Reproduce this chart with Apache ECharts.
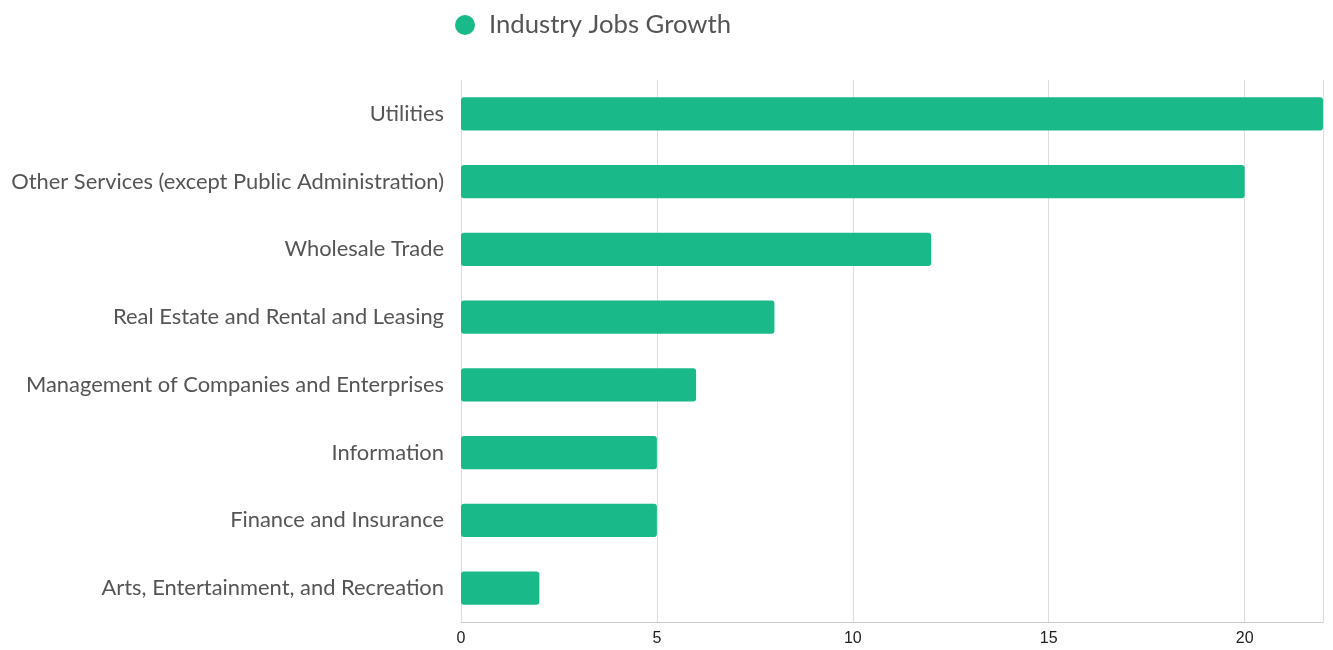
<!DOCTYPE html>
<html><head><meta charset="utf-8">
<script src="https://cdn.jsdelivr.net/npm/echarts@6/dist/echarts.min.js"></script>
<style>html,body{margin:0;padding:0;background:#fff}#c{width:1333px;height:650px}</style>
</head><body><div id="c"></div>
<script>
const categories = ["Arts, Entertainment, and Recreation","Finance and Insurance","Information","Management of Companies and Enterprises","Real Estate and Rental and Leasing","Wholesale Trade","Other Services (except Public Administration)","Utilities"];
const values = [2,5,5,6,8,12,20,22];
const seriesName = "Industry Jobs Growth";
const chart = echarts.init(document.getElementById('c'));
chart.setOption({
  animation:false,
  legend:{top:12,left:455,padding:0,itemWidth:20,itemHeight:20,icon:'circle',itemGap:10,
    textStyle:{fontFamily:'Lato',fontSize:25.7,color:'#555',padding:[0,0,0,9]}},
  grid:{left:461,right:10,top:80,bottom:28,containLabel:false},
  xAxis:{type:'value',min:0,max:22,interval:5,
    axisLine:{show:true,lineStyle:{color:'#ccc'}},axisTick:{show:false},
    splitLine:{lineStyle:{color:'#ddd'}},
    axisLabel:{fontFamily:'Liberation Sans',fontSize:16,color:'#222',margin:9,showMaxLabel:false}},
  yAxis:{type:'category',data:categories,
    axisLine:{show:true,lineStyle:{color:'#ddd'}},axisTick:{show:false},
    axisLabel:{fontFamily:'Lato',fontSize:21.9,color:'#555',margin:17}},
  series:[{name:seriesName,type:'bar',data:values,barWidth:'49%',
    itemStyle:{color:'#1ab98a',borderRadius:3}}]
});
</script></body></html>
